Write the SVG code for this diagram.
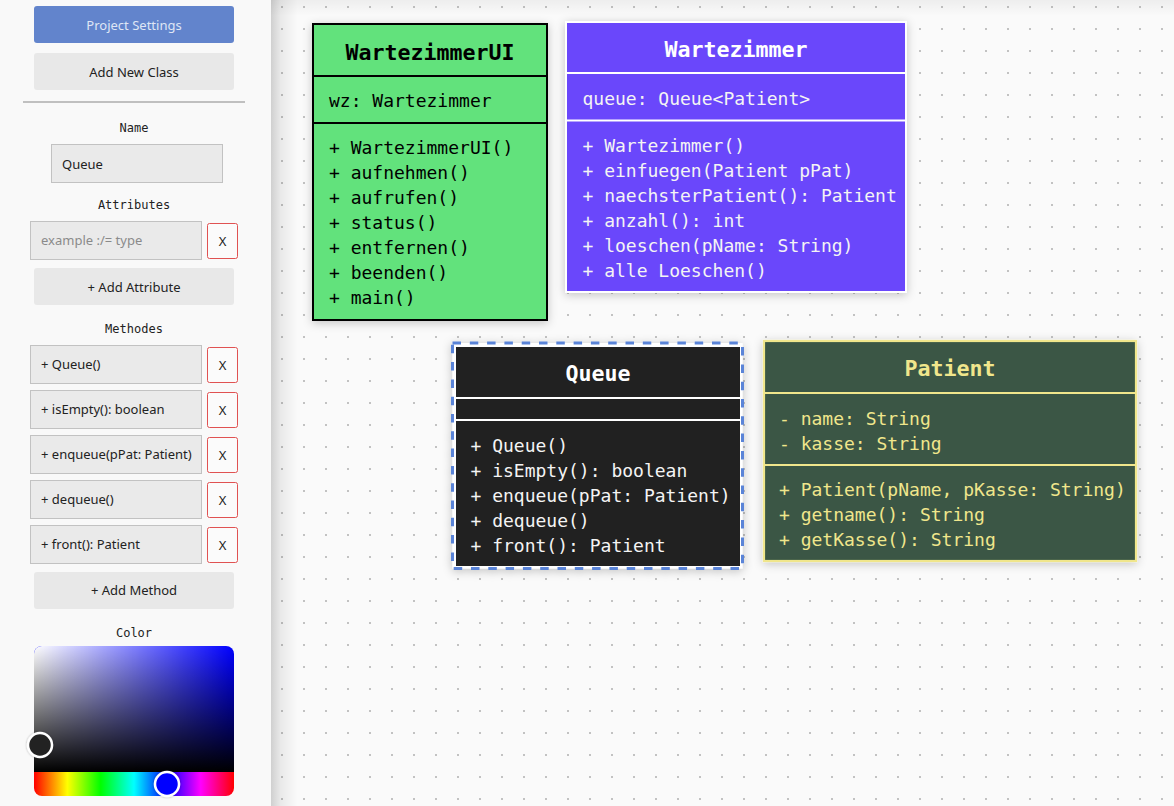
<svg xmlns="http://www.w3.org/2000/svg" width="1174" height="806" viewBox="0 0 1174 806">
<defs>
<style>
.mono{font-family:"DejaVu Sans Mono",monospace;font-size:18px}
.title{font-family:"DejaVu Sans Mono",monospace;font-size:21.6px;font-weight:bold}
.lbl{font-family:"DejaVu Sans Mono",monospace;font-size:12px;fill:#222}
.ui{font-family:"Noto Sans",sans-serif;font-size:13px;fill:#222}
.btn{fill:#e8e8e8}
.inp{fill:#eaeaea;stroke:#c2c2c2;stroke-width:1}
.xb{fill:#fbfbfb;stroke:#e05252;stroke-width:1}
</style>
<pattern id="dots" x="0" y="0" width="22" height="22" patternUnits="userSpaceOnUse">
<rect x="17" y="6" width="2" height="2" fill="#c2c2c2"/>
</pattern>
<linearGradient id="lsh" x1="0" y1="0" x2="1" y2="0">
<stop offset="0" stop-color="#000" stop-opacity="0.17"/>
<stop offset="0.35" stop-color="#000" stop-opacity="0.07"/>
<stop offset="1" stop-color="#000" stop-opacity="0"/>
</linearGradient>
<linearGradient id="tsh" x1="0" y1="0" x2="0" y2="1">
<stop offset="0" stop-color="#000" stop-opacity="0.05"/>
<stop offset="1" stop-color="#000" stop-opacity="0"/>
</linearGradient>
<linearGradient id="satW" x1="0" y1="0" x2="1" y2="0">
<stop offset="0" stop-color="#fff" stop-opacity="1"/>
<stop offset="1" stop-color="#fff" stop-opacity="0"/>
</linearGradient>
<linearGradient id="satB" x1="0" y1="0" x2="0" y2="1">
<stop offset="0" stop-color="#000" stop-opacity="0"/>
<stop offset="1" stop-color="#000" stop-opacity="1"/>
</linearGradient>
<linearGradient id="hue" x1="0" y1="0" x2="1" y2="0">
<stop offset="0" stop-color="#f00"/>
<stop offset="0.1667" stop-color="#ff0"/>
<stop offset="0.3333" stop-color="#0f0"/>
<stop offset="0.5" stop-color="#0ff"/>
<stop offset="0.6667" stop-color="#00f"/>
<stop offset="0.8333" stop-color="#f0f"/>
<stop offset="1" stop-color="#f00"/>
</linearGradient>
<clipPath id="pick"><rect x="34" y="646" width="200" height="150" rx="8"/></clipPath>
<filter id="sh" x="-10%" y="-10%" width="120%" height="120%">
<feDropShadow dx="0" dy="2" stdDeviation="5" flood-color="#000" flood-opacity="0.22"/>
</filter>
<filter id="hsh" x="-30%" y="-30%" width="160%" height="160%">
<feDropShadow dx="0" dy="0" stdDeviation="1.2" flood-color="#000" flood-opacity="0.35"/>
</filter>
</defs>

<!-- canvas -->
<rect x="0" y="0" width="1174" height="806" fill="#fafafa"/>
<rect x="271" y="0" width="903" height="806" fill="url(#dots)"/>
<rect x="271" y="0" width="903" height="16" fill="url(#tsh)"/>
<rect x="271" y="0" width="27" height="806" fill="url(#lsh)"/>

<!-- sidebar -->
<g id="sidebar">
<rect x="0" y="0" width="271" height="806" fill="#f9f9f9"/>
<rect x="34" y="6" width="200" height="37" rx="3" fill="#6284cc"/>
<text x="134" y="29.5" text-anchor="middle" class="ui" style="fill:#dfe6f5">Project Settings</text>
<rect x="34" y="53" width="200" height="37" rx="3" class="btn"/>
<text x="134" y="76.5" text-anchor="middle" class="ui">Add New Class</text>
<line x1="23" y1="102" x2="245" y2="102" stroke="#888" stroke-width="1.2"/>
<text x="134" y="132" text-anchor="middle" class="lbl">Name</text>
<rect x="51.5" y="144.5" width="171" height="38" class="inp"/>
<text x="62" y="168.5" class="ui">Queue</text>
<text x="134" y="208.5" text-anchor="middle" class="lbl">Attributes</text>
<rect x="30.5" y="221.5" width="171" height="38" class="inp"/>
<text x="41" y="245" class="ui" style="fill:#8a8a8a">example :/= type</text>
<rect x="207.5" y="223.5" width="30" height="35" rx="2" class="xb"/>
<text x="222.5" y="245.5" text-anchor="middle" class="ui">X</text>
<rect x="34" y="268" width="200" height="37" rx="3" class="btn"/>
<text x="134" y="291.5" text-anchor="middle" class="ui">+ Add Attribute</text>
<text x="134" y="333" text-anchor="middle" class="lbl">Methodes</text>

<rect x="30.5" y="345.5" width="171" height="38" class="inp"/>
<text x="41" y="369" class="ui">+ Queue()</text>
<rect x="207.5" y="347.5" width="30" height="35" rx="2" class="xb"/>
<text x="222.5" y="369.5" text-anchor="middle" class="ui">X</text>

<rect x="30.5" y="390.5" width="171" height="38" class="inp"/>
<text x="41" y="414" class="ui">+ isEmpty(): boolean</text>
<rect x="207.5" y="392.5" width="30" height="35" rx="2" class="xb"/>
<text x="222.5" y="414.5" text-anchor="middle" class="ui">X</text>

<rect x="30.5" y="435.5" width="171" height="38" class="inp"/>
<text x="41" y="459" class="ui">+ enqueue(pPat: Patient)</text>
<rect x="207.5" y="437.5" width="30" height="35" rx="2" class="xb"/>
<text x="222.5" y="459.5" text-anchor="middle" class="ui">X</text>

<rect x="30.5" y="480.5" width="171" height="38" class="inp"/>
<text x="41" y="504" class="ui">+ dequeue()</text>
<rect x="207.5" y="482.5" width="30" height="35" rx="2" class="xb"/>
<text x="222.5" y="504.5" text-anchor="middle" class="ui">X</text>

<rect x="30.5" y="525.5" width="171" height="38" class="inp"/>
<text x="41" y="549" class="ui">+ front(): Patient</text>
<rect x="207.5" y="527.5" width="30" height="35" rx="2" class="xb"/>
<text x="222.5" y="549.5" text-anchor="middle" class="ui">X</text>

<rect x="34" y="572" width="200" height="37" rx="3" class="btn"/>
<text x="134" y="595" text-anchor="middle" class="ui">+ Add Method</text>
<text x="134" y="637" text-anchor="middle" class="lbl">Color</text>

<g clip-path="url(#pick)">
<rect x="34" y="646" width="200" height="126" fill="#00f"/>
<rect x="34" y="646" width="200" height="126" fill="url(#satW)"/>
<rect x="34" y="646" width="200" height="126" fill="url(#satB)"/>
<rect x="34" y="772" width="200" height="24" fill="url(#hue)"/>
</g>
<circle cx="40" cy="745" r="12" fill="#222" stroke="#fff" stroke-width="2.5" filter="url(#hsh)"/>
<circle cx="167" cy="784" r="12" fill="#00f" stroke="#fff" stroke-width="2.5" filter="url(#hsh)"/>
</g>

<!-- connectors (none) -->
<g id="connectors"></g>

<!-- WartezimmerUI -->
<g id="WartezimmerUI">
<rect x="313" y="24" width="234" height="296" fill="#62e27b" stroke="#000" stroke-width="2" filter="url(#sh)"/>
<line x1="313" y1="76" x2="547" y2="76" stroke="#000" stroke-width="2"/>
<line x1="313" y1="123" x2="547" y2="123" stroke="#000" stroke-width="2"/>
<g fill="#000">
<text x="430" y="59.5" text-anchor="middle" class="title">WartezimmerUI</text>
<text x="329" y="107" class="mono">wz: Wartezimmer</text>
<text x="329" y="154" class="mono">+ WartezimmerUI()</text>
<text x="329" y="179" class="mono">+ aufnehmen()</text>
<text x="329" y="204" class="mono">+ aufrufen()</text>
<text x="329" y="229" class="mono">+ status()</text>
<text x="329" y="254" class="mono">+ entfernen()</text>
<text x="329" y="279" class="mono">+ beenden()</text>
<text x="329" y="304" class="mono">+ main()</text>
</g>
</g>

<!-- Wartezimmer -->
<g id="Wartezimmer">
<rect x="566" y="22" width="340" height="270" fill="#6b47fb" stroke="#fff" stroke-width="2" filter="url(#sh)"/>
<line x1="566" y1="73" x2="906" y2="73" stroke="#fff" stroke-width="2"/>
<line x1="566" y1="120.5" x2="906" y2="120.5" stroke="#fff" stroke-width="2"/>
<g fill="#f4f4f4">
<text x="736" y="56.7" text-anchor="middle" class="title" fill="#fff">Wartezimmer</text>
<text x="582.5" y="104.5" class="mono">queue: Queue&lt;Patient&gt;</text>
<text x="582.5" y="151.8" class="mono">+ Wartezimmer()</text>
<text x="582.5" y="176.8" class="mono">+ einfuegen(Patient pPat)</text>
<text x="582.5" y="201.8" class="mono">+ naechsterPatient(): Patient</text>
<text x="582.5" y="226.8" class="mono">+ anzahl(): int</text>
<text x="582.5" y="251.8" class="mono">+ loeschen(pName: String)</text>
<text x="582.5" y="276.8" class="mono">+ alle Loeschen()</text>
</g>
</g>

<!-- Queue (selected) -->
<g id="Queue">
<rect x="452.5" y="343" width="290" height="225.5" fill="#fff" stroke="#5a84d8" stroke-width="3" stroke-dasharray="8.5 8.8" filter="url(#sh)"/>
<rect x="456" y="347" width="284" height="219" fill="#212121"/>
<line x1="456" y1="398" x2="740" y2="398" stroke="#fff" stroke-width="2"/>
<line x1="456" y1="420" x2="740" y2="420" stroke="#fff" stroke-width="2"/>
<g fill="#f4f4f4">
<text x="598" y="381" text-anchor="middle" class="title" fill="#fff">Queue</text>
<text x="470.5" y="451.5" class="mono">+ Queue()</text>
<text x="470.5" y="476.5" class="mono">+ isEmpty(): boolean</text>
<text x="470.5" y="501.5" class="mono">+ enqueue(pPat: Patient)</text>
<text x="470.5" y="526.5" class="mono">+ dequeue()</text>
<text x="470.5" y="551.5" class="mono">+ front(): Patient</text>
</g>
</g>

<!-- Patient -->
<g id="Patient">
<rect x="764" y="341" width="372" height="220" fill="#3a5744" stroke="#f0e68c" stroke-width="2.2" filter="url(#sh)"/>
<line x1="764" y1="393" x2="1136" y2="393" stroke="#f0e68c" stroke-width="2.2"/>
<line x1="764" y1="465" x2="1136" y2="465" stroke="#f0e68c" stroke-width="2.2"/>
<g fill="#f0e68c">
<text x="950" y="375.7" text-anchor="middle" class="title">Patient</text>
<text x="779" y="424.5" class="mono">- name: String</text>
<text x="779" y="449.5" class="mono">- kasse: String</text>
<text x="779" y="496" class="mono">+ Patient(pName, pKasse: String)</text>
<text x="779" y="521" class="mono">+ getname(): String</text>
<text x="779" y="546" class="mono">+ getKasse(): String</text>
</g>
</g>
</svg>
